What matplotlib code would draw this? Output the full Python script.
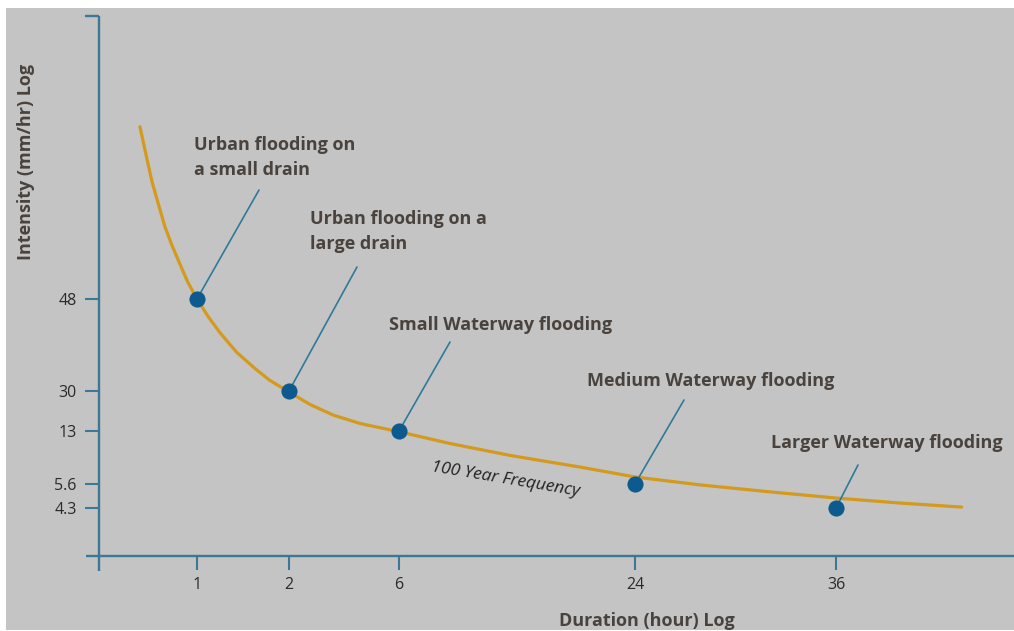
import numpy as np
import matplotlib
matplotlib.use("Agg")
import matplotlib.pyplot as plt
from matplotlib.patches import Rectangle
from matplotlib.lines import Line2D

# ---------------- data ----------------
durations = [1, 2, 6, 24, 36]
intensities = [48, 30, 13, 5.6, 4.3]
x_tick_labels = ["1", "2", "6", "24", "36"]
y_tick_labels = ["48", "30", "13", "5.6", "4.3"]
event_labels = [
    "Urban flooding on\na small drain",
    "Urban flooding on a\nlarge drain",
    "Small Waterway flooding",
    "Medium Waterway flooding",
    "Larger Waterway flooding",
]
curve_duration = [0.38, 0.45, 0.51, 0.58, 0.65, 0.73, 0.82, 0.90, 1.0, 1.12, 1.25,
                  1.43, 1.63, 1.79, 2.0, 2.76, 3.6, 4.58, 6.0, 9.9, 14.5, 19.8,
                  24.0, 27.9, 32.1, 36.0, 39.8, 43.5]
curve_intensity = [81.7, 75.9, 71.0, 66.6, 62.2, 58.4, 54.6, 51.3, 48.0, 44.6, 41.4,
                   37.6, 34.4, 32.1, 29.6, 24.3, 19.8, 16.2, 12.9, 11.25, 9.58, 7.97,
                   6.58, 5.55, 5.17, 4.84, 4.57, 4.35]
curve_label = "100 Year Frequency"
x_label = "Duration (hour) Log"
y_label = "Intensity (mm/hr) Log"

# ---------------- layout / style ----------------
W, H = 1014, 631
BG = "#c4c4c4"
AXC = "#3b7896"
DOT = "#0d5b8e"
CURVE = "#d39a1d"
LEAD = "#2f7a9a"
TXT = "#4a423c"
FONT = "Open Sans"

# schematic (non-uniform) axes: knots tie tick values to figure pixels
x_knot_px = [197, 289, 399, 635, 836]
y_knot_px_top = [508, 484, 431, 391, 299]  # for 4.3, 5.6, 13, 30, 48


def piecewise(xs, ys):
    xs = np.asarray(xs, float)
    ys = np.asarray(ys, float)
    s_lo = (ys[1] - ys[0]) / (xs[1] - xs[0])
    s_hi = (ys[-1] - ys[-2]) / (xs[-1] - xs[-2])

    def f(v):
        v = np.asarray(v, float)
        out = np.interp(v, xs, ys)
        out = np.where(v < xs[0], ys[0] + (v - xs[0]) * s_lo, out)
        out = np.where(v > xs[-1], ys[-1] + (v - xs[-1]) * s_hi, out)
        return out
    return f


xv = sorted(durations)
fx = piecewise(xv, x_knot_px)
fx_inv = piecewise(x_knot_px, xv)
yv = sorted(intensities)
ypx = [H - p for p in y_knot_px_top]
fy = piecewise(yv, ypx)
fy_inv = piecewise(ypx, yv)

fig = plt.figure(figsize=(W / 100, H / 100), dpi=100)
fig.patch.set_facecolor("white")
fig.add_artist(Rectangle((6 / W, 1 / H), 1 - 6 / W, 622 / H, transform=fig.transFigure,
                         facecolor=BG, edgecolor="none", zorder=-10))

ax_left, ax_right, ax_top, ax_bottom = 99, 1014, 16, 556
ax = fig.add_axes([ax_left / W, (H - ax_bottom) / H, (ax_right - ax_left) / W,
                   (ax_bottom - ax_top) / H])
ax.set_facecolor("none")
ax.set_xscale("function", functions=(fx, fx_inv))
ax.set_yscale("function", functions=(fy, fy_inv))
ax.set_xlim(float(fx_inv(ax_left)), float(fx_inv(ax_right)))
ax.set_ylim(float(fy_inv(H - ax_bottom)), float(fy_inv(H - ax_top)))

for s in ax.spines.values():
    s.set_visible(False)

ax.set_xticks(durations, x_tick_labels)
ax.set_yticks(intensities, y_tick_labels)
ax.xaxis.set_minor_locator(matplotlib.ticker.NullLocator())
ax.yaxis.set_minor_locator(matplotlib.ticker.NullLocator())
ax.tick_params(axis="both", direction="out", length=10, width=1.5, color=AXC,
               labelsize=11.5, labelcolor="#2a2a2a")
ax.tick_params(axis="x", pad=5)
ax.tick_params(axis="y", pad=6)
for lab in ax.get_xticklabels() + ax.get_yticklabels():
    lab.set_fontfamily(FONT)

# axis lines
aw, ah = ax_right - ax_left, ax_bottom - ax_top
ax.add_line(Line2D([0, 0], [-15 / ah, 1], transform=ax.transAxes, color=AXC, lw=1.7,
                   clip_on=False, solid_capstyle="butt"))
ax.add_line(Line2D([-14 / aw, 0], [1, 1], transform=ax.transAxes, color=AXC, lw=1.7,
                   clip_on=False, solid_capstyle="butt"))
ax.add_line(Line2D([-13 / aw, 1], [0, 0], transform=ax.transAxes, color=AXC, lw=1.7,
                   clip_on=False, solid_capstyle="butt"))

# curve and points
ax.plot(curve_duration, curve_intensity, color=CURVE, lw=2.3, zorder=2,
        solid_capstyle="round", solid_joinstyle="round")
ax.scatter(durations, intensities, s=135, color=DOT, zorder=4, linewidths=0)

# leaders and labels
lead_off = [(62, 109), (68, 124), (51, 89), (49, 84), (22, 43)]
text_off = [(-3, 141.5), (21, 159.5), (-10, 106), (-48, 103), (-65, 65)]
for d, v, lab, lo, to in zip(durations, intensities, event_labels, lead_off, text_off):
    ax.annotate("", xy=(d, v), xytext=lo, textcoords="offset pixels",
                arrowprops=dict(arrowstyle="-", color=LEAD, lw=1.2, shrinkA=0, shrinkB=0),
                zorder=3)
    ax.annotate(lab, xy=(d, v), xytext=to, textcoords="offset pixels", ha="left",
                va="center", fontsize=13, fontweight="bold", family=FONT, color=TXT,
                linespacing=1.55)

ax.annotate(curve_label, xy=(durations[2], intensities[2]), xytext=(106, -49),
            textcoords="offset pixels", ha="center", va="center", rotation=-9.5,
            rotation_mode="anchor", fontsize=12.5, fontstyle="italic", family=FONT,
            color="#222222")

fig.text(26 / W, 1 - 162 / H, y_label, rotation=90, ha="center", va="center",
         fontsize=13, fontweight="bold", family=FONT, color=TXT)
fig.text(647 / W, 1 - 621 / H, x_label, ha="center", va="center",
         fontsize=13, fontweight="bold", family=FONT, color=TXT)

fig.savefig("out.png", dpi=100, facecolor=fig.get_facecolor())
